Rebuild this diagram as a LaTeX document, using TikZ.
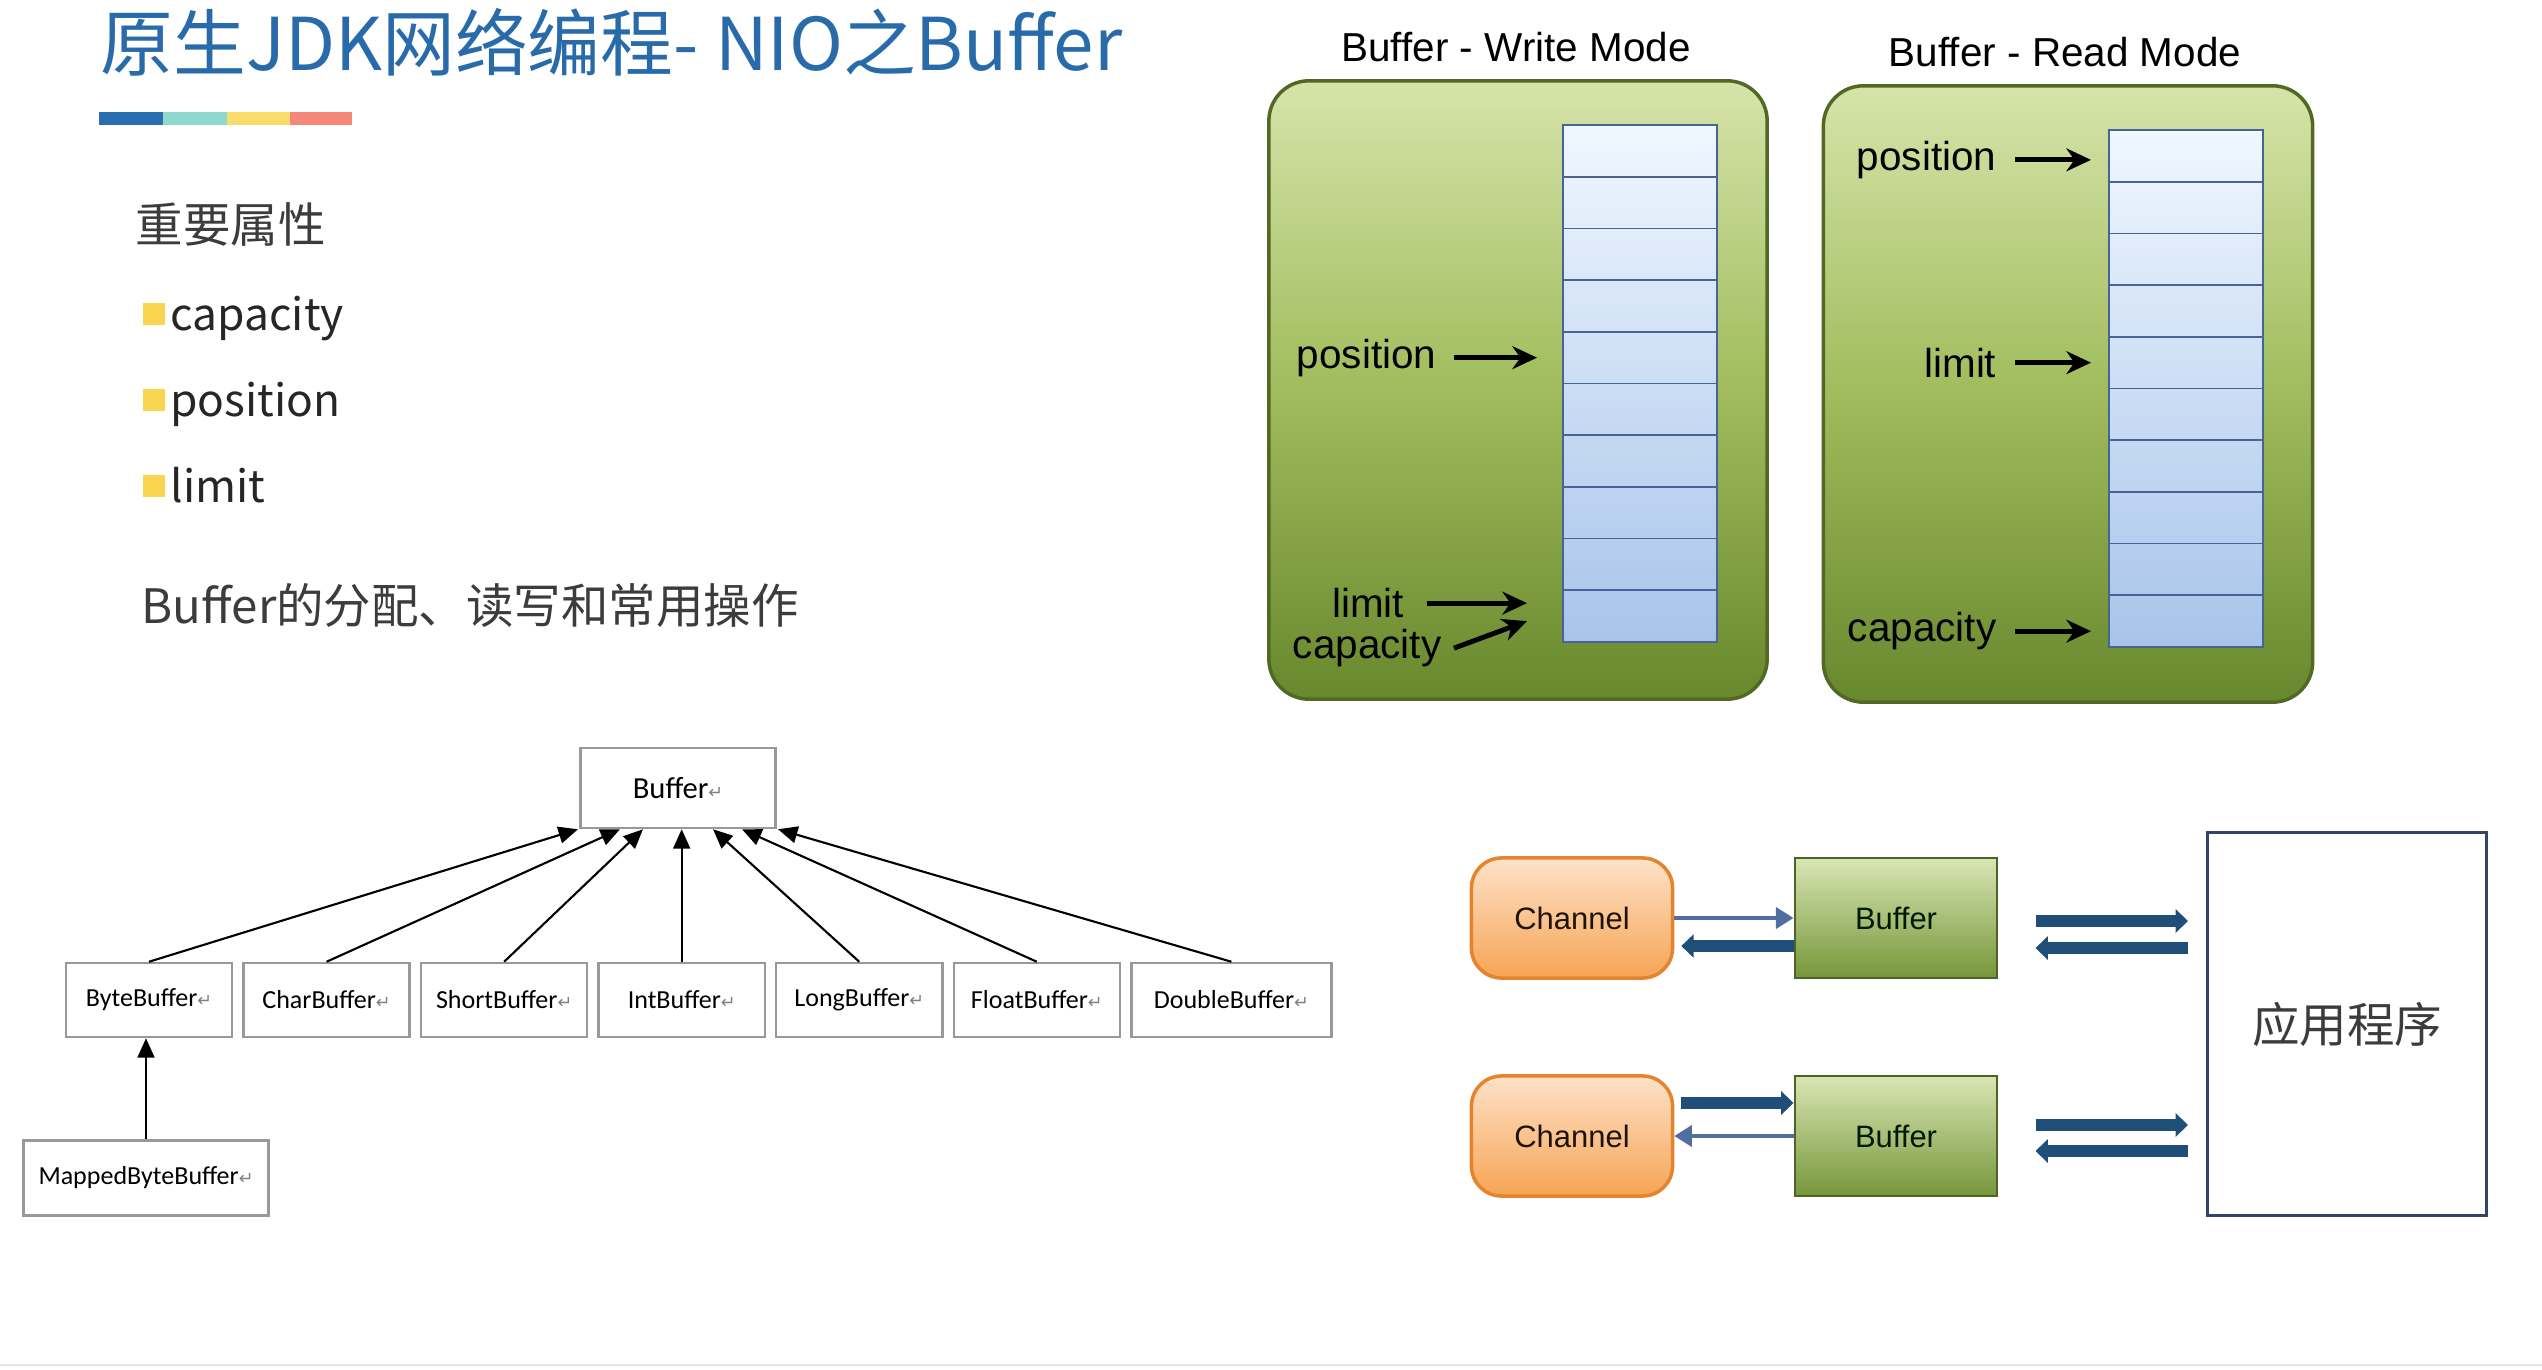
\documentclass[tikz,border=0pt]{standalone}
\usepackage{fontspec}
\newfontfamily\cjk{Noto Sans CJK SC}
\newfontfamily\arialfont{Liberation Sans}
\newfontfamily\wordfont{Carlito}
\newfontfamily\symfont{DejaVu Sans}
\usetikzlibrary{arrows.meta, positioning, calc}

\definecolor{titleblue}{RGB}{41,107,170}
\definecolor{barblue}{RGB}{40,110,176}
\definecolor{barteal}{RGB}{142,216,208}
\definecolor{baryellow}{RGB}{249,220,107}
\definecolor{barsalmon}{RGB}{242,135,122}
\definecolor{bulletgold}{RGB}{250,214,80}
\definecolor{bodygray}{RGB}{60,60,60}
\definecolor{pnltop}{RGB}{214,228,170}
\definecolor{pnlmid}{RGB}{160,188,92}
\definecolor{pnlbot}{RGB}{104,136,46}
\definecolor{pnlline}{RGB}{84,104,38}
\definecolor{cellhi}{RGB}{240,247,255}
\definecolor{celllo}{RGB}{168,196,234}
\definecolor{cellline}{RGB}{70,100,150}
\definecolor{chtop}{RGB}{253,226,200}
\definecolor{chbot}{RGB}{247,164,84}
\definecolor{chline}{RGB}{228,132,46}
\definecolor{bftop}{RGB}{216,230,180}
\definecolor{bfbot}{RGB}{118,150,58}
\definecolor{bfline}{RGB}{80,98,40}
\definecolor{flowblue}{RGB}{31,78,121}
\definecolor{thinblue}{RGB}{80,110,160}
\definecolor{appline}{RGB}{50,70,100}

\newcommand{\retmark}{{\symfont\fontsize{5}{5}\selectfont\color{gray}↵}}

\begin{document}
\begin{tikzpicture}[
    x=0.01cm, y=-0.01cm,
    heading/.style={font=\cjk\fontsize{20.7}{20.7}\selectfont, text=titleblue, anchor=west, inner sep=0},
    body/.style={font=\cjk\fontsize{13.5}{13.5}\selectfont, text=bodygray, anchor=west, inner sep=0},
    item/.style={font=\cjk\fontsize{12.6}{12.6}\selectfont, text=black!85, anchor=base west, inner sep=0},
    bulletsq/.style={fill=bulletgold, minimum width=0.22cm, minimum height=0.21cm, inner sep=0},
    panel/.style={draw=pnlline, line width=1pt, rounded corners=0.4cm, top color=pnltop, bottom color=pnlbot, middle color=pnlmid},
    cell/.style={draw=cellline, line width=0.5pt, minimum width=1.54cm, minimum height=0.517cm, inner sep=0, outer sep=0},
    modelbl/.style={font=\arialfont\fontsize{11.5}{11.5}\selectfont, inner sep=0.12cm},
    ptr/.style={-{Stealth[length=7pt,width=6.5pt]}, line width=1.4pt},
    cls/.style={draw=gray!80, line width=0.7pt, minimum width=1.66cm, minimum height=0.74cm, inner sep=0, font=\wordfont\fontsize{7.4}{7.4}\selectfont},
    inherit/.style={-{Triangle[length=5.5pt,width=4.8pt]}, line width=0.6pt},
    chan/.style={draw=chline, line width=1pt, rounded corners=0.3cm, top color=chtop, bottom color=chbot, minimum width=2.01cm, minimum height=1.2cm, text=black!85!brown, font=\arialfont\fontsize{8.8}{8.8}\selectfont},
    bufbox/.style={draw=bfline, line width=0.8pt, top color=bftop, bottom color=bfbot, minimum width=2.02cm, minimum height=1.2cm, text=black!90!green, font=\arialfont\fontsize{8.8}{8.8}\selectfont},
    fat/.style={-{Triangle[length=3.5pt,width=6.5pt]}, line width=3.4pt, flowblue},
    slim/.style={-{Triangle[length=5pt,width=6pt]}, line width=1pt, thinblue}
]
\useasboundingbox (0,0) rectangle (2542,1370);

% --- Heading and colour bar ---
\node[heading] (title) at (100,42) {原生JDK网络编程- NIO之Buffer};
\fill[barblue] (99,112) rectangle (163,125);
\fill[barteal] (163,112) rectangle (227,125);
\fill[baryellow] (227,112) rectangle (290,125);
\fill[barsalmon] (290,112) rectangle (352,125);

% --- Key properties ---
\node[body] (props) at (135,224) {重要属性};
\node[bulletsq] (b1) at (154,314) {};
\node[item] (capa) at ([xshift=0.04cm, yshift=-0.05cm]b1.south east) {capacity};
\node[bulletsq] (b2) at (154,400) {};
\node[item] (posi) at ([xshift=0.04cm, yshift=-0.05cm]b2.south east) {position};
\node[bulletsq] (b3) at (154,486) {};
\node[item] (limi) at ([xshift=0.04cm, yshift=-0.05cm]b3.south east) {limit};
\node[body] (ops) at (141,605) {Buffer的分配、读写和常用操作};

% --- Write mode ---
\node[panel, minimum width=4.98cm, minimum height=6.18cm] (wpanel) at (1518,390) {};
\node[modelbl] (wtitle) at (1516,47) {Buffer - Write Mode};
\foreach \i [evaluate=\i as \pa using int(10*\i), evaluate=\i as \pb using int(10*\i+10)] in {0,...,9}
    \node[cell, anchor=north west, top color=celllo!\pa!cellhi, bottom color=celllo!\pb!cellhi] (w\i) at (1563,{125+51.7*\i}) {};
\node[modelbl, left=1.14cm of w4] (wpos) {position};
\draw[ptr, shorten <=0.05cm, shorten >=0.26cm] (wpos) -- (w4);
\node[modelbl, anchor=east] (wlim) at ([xshift=-1.46cm, yshift=0.13cm]w9.west) {limit};
\node[modelbl, anchor=east] (wcap) at ([xshift=-1.09cm, yshift=-0.32cm]w9.west) {capacity};
\coordinate (wlimtip) at ([xshift=-0.36cm, yshift=0.13cm]w9.west);
\coordinate (wcaptip) at ([xshift=-0.36cm, yshift=-0.05cm]w9.west);
\draw[ptr, shorten <=0.1cm] (wlim.east) -- (wlimtip);
\draw[ptr] (wcap.east) -- (wcaptip);

% --- Read mode ---
\node[panel, minimum width=4.89cm, minimum height=6.16cm] (rpanel) at (2068,394) {};
\node[modelbl] (rtitle) at (2065,52) {Buffer - Read Mode};
\foreach \i [evaluate=\i as \pa using int(10*\i), evaluate=\i as \pb using int(10*\i+10)] in {0,...,9}
    \node[cell, anchor=north west, top color=celllo!\pa!cellhi, bottom color=celllo!\pb!cellhi] (r\i) at (2109,{130+51.7*\i}) {};
\node[modelbl, left=1cm of r0, yshift=-0.04cm] (rpos) {position};
\node[modelbl, left=1cm of r4] (rlim) {limit};
\node[modelbl, left=1cm of r9, yshift=-0.1cm] (rcap) {capacity};
\draw[ptr, shorten <=0.06cm, shorten >=0.18cm] (rpos) -- (rpos -| r0.west);
\draw[ptr, shorten <=0.06cm, shorten >=0.18cm] (rlim) -- (r4);
\draw[ptr, shorten <=0.06cm, shorten >=0.18cm] (rcap) -- (rcap -| r9.west);

% --- Class hierarchy ---
\node[cls, minimum width=1.95cm, minimum height=0.8cm, font=\wordfont\fontsize{8.7}{8.7}\selectfont] (buf) at (678,788) {Buffer\retmark};
\node[cls] (bytebuf) at (149,1000) {ByteBuffer\retmark};
\node[cls, right=0.09cm of bytebuf] (charbuf) {CharBuffer\retmark};
\node[cls, right=0.09cm of charbuf] (shortbuf) {ShortBuffer\retmark};
\node[cls, right=0.09cm of shortbuf] (intbuf) {IntBuffer\retmark};
\node[cls, right=0.09cm of intbuf] (longbuf) {LongBuffer\retmark};
\node[cls, right=0.09cm of longbuf] (floatbuf) {FloatBuffer\retmark};
\node[cls, right=0.09cm of floatbuf, minimum width=2.0cm] (doublebuf) {DoubleBuffer\retmark};
\node[cls, minimum width=2.45cm, minimum height=0.75cm] (mappedbuf) at (146,1178) {MappedByteBuffer\retmark};

\draw[inherit] (bytebuf.north) -- ([xshift=-1.0cm]buf.south);
\draw[inherit] (charbuf.north) -- ([xshift=-0.58cm]buf.south);
\draw[inherit] (shortbuf.north) -- ([xshift=-0.35cm]buf.south);
\draw[inherit] (intbuf.north) -- (intbuf.north |- buf.south);
\draw[inherit] (longbuf.north) -- ([xshift=0.35cm]buf.south);
\draw[inherit] (floatbuf.north) -- ([xshift=0.64cm]buf.south);
\draw[inherit] (doublebuf.north) -- ([xshift=1.0cm]buf.south);
\draw[inherit] (mappedbuf.north) -- (mappedbuf.north |- bytebuf.south);

% --- Channel / Buffer / application ---
\node[chan] (chan1) at (1572,918) {Channel};
\node[bufbox] (buf1) at (1896,918) {Buffer};
\node[chan] (chan2) at (1572,1136) {Channel};
\node[bufbox] (buf2) at (1896,1136) {Buffer};
\node[draw=appline, line width=0.8pt, minimum width=2.79cm, minimum height=3.83cm, text=bodygray, font=\cjk\fontsize{13.5}{13.5}\selectfont] (app) at (2347,1024) {应用程序};

\draw[slim] (chan1) -- (buf1);
\draw[fat, shorten >=0.07cm] ([yshift=-0.28cm]buf1.west) -- ([yshift=-0.28cm]chan1.east);
\draw[fat, shorten <=0.07cm] ([yshift=0.33cm]chan2.east) -- ([yshift=0.33cm]buf2.west);
\draw[slim] (buf2) -- (chan2);

\coordinate (o1) at ([yshift=-0.03cm]buf1.east);
\coordinate (i1) at ([yshift=-0.30cm]buf1.east);
\coordinate (o2) at ([yshift=0.11cm]buf2.east);
\coordinate (i2) at ([yshift=-0.15cm]buf2.east);
\draw[fat, shorten <=0.37cm, shorten >=0.18cm] (o1) -- (o1 -| app.west);
\draw[fat, shorten <=0.18cm, shorten >=0.37cm] (i1 -| app.west) -- (i1);
\draw[fat, shorten <=0.37cm, shorten >=0.18cm] (o2) -- (o2 -| app.west);
\draw[fat, shorten <=0.18cm, shorten >=0.37cm] (i2 -| app.west) -- (i2);

% --- Slide edge ---
\draw[gray!20, line width=0.8pt] (0,1365) -- (2542,1365);
\end{tikzpicture}
\end{document}
